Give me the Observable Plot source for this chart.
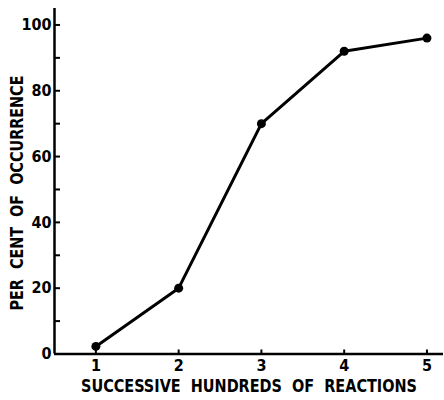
<!DOCTYPE html>
<html>
<head>
<meta charset="utf-8">
<script src="https://cdn.jsdelivr.net/npm/d3@7"></script>
<script src="https://cdn.jsdelivr.net/npm/@observablehq/plot@0.6"></script>
<style>
  body { margin: 0; background: #fff; }
  svg { font-family: "DejaVu Sans Condensed", "Liberation Sans Narrow", "DejaVu Sans", sans-serif; font-stretch: condensed; }
</style>
</head>
<body>
<div id="chart"></div>
<script>
const hundreds = [1, 2, 3, 4, 5];
const percent = [2.3, 20, 70, 92, 96];
const yTickValues = [0, 20, 40, 60, 80, 100];
const yMinorTicks = [10, 30, 50, 70, 90];
const xTickValues = [1, 2, 3, 4, 5];
const xTitle = "SUCCESSIVE\u00a0\u00a0HUNDREDS\u00a0\u00a0OF\u00a0\u00a0REACTIONS";
const yTitle = "PER\u00a0\u00a0CENT\u00a0\u00a0OF\u00a0\u00a0OCCURRENCE";

const data = hundreds.map((h, i) => ({h, p: percent[i]}));

const chart = Plot.plot({
  width: 444,
  height: 400,
  marginLeft: 54,
  marginRight: 1,
  marginTop: 8,
  marginBottom: 46.5,
  x: {domain: [0.5, 5.2], label: null},
  y: {domain: [0, 105], label: null},
  style: {fontSize: "14px", fontWeight: "bold", color: "#000", background: "#fff"},
  marks: [
    Plot.ruleX([0.5], {y1: 0, y2: 105, stroke: "#000", strokeWidth: 2.5}),
    Plot.ruleY([0], {x1: 0.5, x2: 5.2, stroke: "#000", strokeWidth: 2.5}),
    Plot.axisY(yTickValues, {tickSize: -6, text: null, strokeWidth: 2, label: null}),
    Plot.axisY(yMinorTicks, {tickSize: -6, text: null, strokeWidth: 2, label: null}),
    Plot.axisY(yTickValues, {tickSize: 0, tickPadding: 3, fontWeight: "bold", fontSize: 16, label: null}),
    Plot.axisX(xTickValues, {tickSize: -4, text: null, strokeWidth: 2, label: null}),
    Plot.axisX(xTickValues, {tickSize: 0, tickPadding: 6, fontWeight: "bold", fontSize: 16, label: null}),
    Plot.line(data, {x: "h", y: "p", stroke: "#000", strokeWidth: 3}),
    Plot.dot(data, {x: "h", y: "p", r: 4.5, fill: "#000"}),
    Plot.text([xTitle], {frameAnchor: "bottom", lineAnchor: "middle", dy: 33, text: d => d, fontSize: 17, fontWeight: "bold", className: "xtitle"}),
    Plot.text([yTitle], {frameAnchor: "bottom-left", textAnchor: "start", lineAnchor: "middle", dx: -37, dy: -43.5, rotate: -90, text: d => d, fontSize: 18, fontWeight: "bold", className: "ytitle"})
  ]
});
chart.querySelectorAll(".xtitle text").forEach(t => { t.setAttribute("textLength", 336); t.setAttribute("lengthAdjust", "spacingAndGlyphs"); });
chart.querySelectorAll(".ytitle text").forEach(t => { t.setAttribute("textLength", 235); t.setAttribute("lengthAdjust", "spacingAndGlyphs"); });
document.getElementById("chart").appendChild(chart);
</script>
</body>
</html>
